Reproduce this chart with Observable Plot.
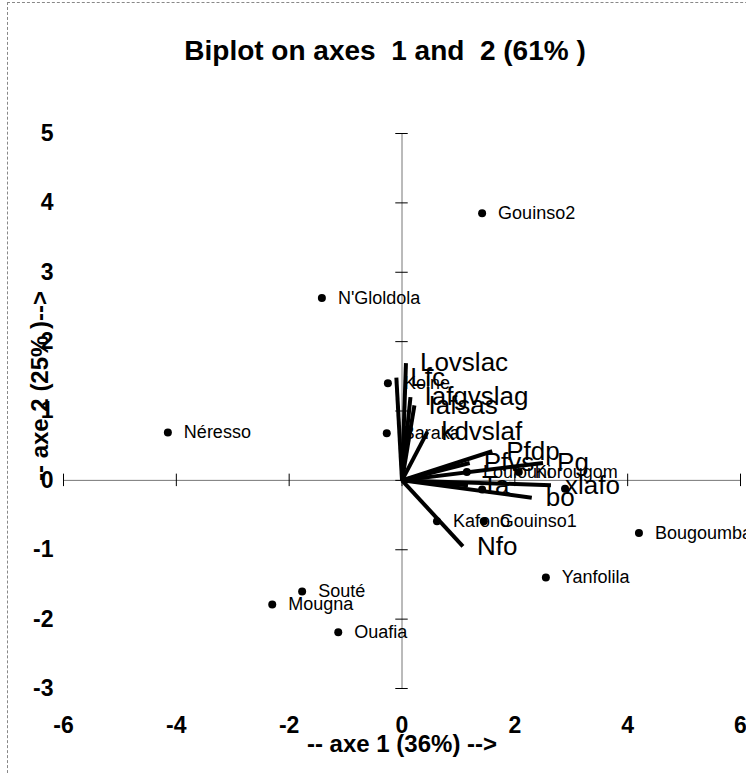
<!DOCTYPE html>
<html>
<head>
<meta charset="utf-8">
<script src="https://cdn.jsdelivr.net/npm/d3@7"></script>
<script src="https://cdn.jsdelivr.net/npm/@observablehq/plot@0.6"></script>
<style>
  html, body { margin: 0; padding: 0; background: #fff; }
  #wrap { position: relative; width: 746px; height: 773px; overflow: hidden; }
  #border { position: absolute; left: 7px; top: 2px; width: 800px; height: 800px;
            border-top: 1px dashed #888; border-left: 1px dashed #888; }
  #wrap svg { position: absolute; left: 0; top: 0; }
</style>
</head>
<body>
<div id="wrap"><div id="border"></div></div>
<script>
const title = "Biplot on axes  1 and  2 (61% )";
const xTitle = "-- axe 1 (36%) -->";
const yTitle = "-- axe 2 (25% )-->";

const xTicks = [-6, -4, -2, 0, 2, 4, 6];
const yTicks = [-3, -2, -1, 0, 1, 2, 3, 4, 5];

// sites (observations); two points whose labels are hidden under the variable labels
const siteNames = ["Gouinso2", "N'Gloldola", "Kolne", "Néresso", "Baraka", "Kafono", "Gouinso1",
                   "Bougoumbala", "Yanfolila", "Souté", "Mougna", "Ouafia",
                   "Loulouni", "Korougom", "", ""];
const siteX = [1.42, -1.42, -0.25, -4.15, -0.27, 0.62, 1.45, 4.2, 2.55, -1.77, -2.30, -1.13,
               1.15, 2.07, 1.42, 2.89];
const siteY = [3.85, 2.63, 1.40, 0.69, 0.68, -0.59, -0.59, -0.76, -1.40, -1.60, -1.79, -2.19,
               0.12, 0.12, -0.13, -0.12];

// variables (vectors)
const varNames = ["Lovslac", "Lfc", "Iafgvslag", "Iafsas", "kdvslaf", "Pfdp", "Pfvs", "Pg", "Ta", "xlafo", "bo", "Nfo"];
const varX = [0.07, -0.1, 0.15, 0.22, 0.45, 1.6, 1.2, 2.5, 1.17, 2.64, 2.3, 1.08];
const varY = [1.69, 1.48, 1.2, 1.08, 0.7, 0.42, 0.25, 0.25, -0.07, -0.07, -0.25, -0.95];

const sites = siteNames.map((n, i) => ({name: n, x: siteX[i], y: siteY[i]}));
const vars = varNames.map((n, i) => ({name: n, x: varX[i], y: varY[i]}));

const font = "'Liberation Sans', Arial, sans-serif";

const chart = Plot.plot({
  width: 746,
  height: 773,
  marginLeft: 63,
  marginRight: 6,
  marginTop: 133,
  marginBottom: 85,
  x: {domain: [-6, 6], axis: null},
  y: {domain: [-3, 5], axis: null},
  style: {fontFamily: font, background: "transparent", overflow: "visible"},
  marks: [
    // axes through origin
    Plot.ruleY([0], {x1: -6, x2: 6, stroke: "#777", strokeWidth: 1}),
    Plot.ruleX([0], {y1: -3, y2: 5, stroke: "#777", strokeWidth: 1}),
    Plot.ruleY(yTicks, {y: d => d, x1: -0.11, x2: 0.11, stroke: "#000", strokeWidth: 1}),
    Plot.ruleX(xTicks, {x: d => d, y1: -0.09, y2: 0.09, stroke: "#000", strokeWidth: 1}),
    // tick labels
    Plot.text(yTicks, {x: -6, y: d => d, text: d => String(d), dx: -10, textAnchor: "end",
      fontSize: 23, fontWeight: "bold", fill: "#000"}),
    Plot.text(xTicks, {x: d => d, y: -3, text: d => String(d), dy: 37, textAnchor: "middle",
      fontSize: 23, fontWeight: "bold", fill: "#000"}),
    // vectors
    Plot.link(vars, {x1: 0, y1: 0, x2: "x", y2: "y", stroke: "#000", strokeWidth: 4}),
    // sites
    Plot.dot(sites, {x: "x", y: "y", r: 4, fill: "#000", stroke: "none"}),
    Plot.text(sites.filter(d => d.name), {x: "x", y: "y", text: "name", dx: 16, textAnchor: "start",
      fontSize: 18, fill: "#000"}),
    Plot.text(vars, {x: "x", y: "y", text: "name", dx: 14, textAnchor: "start",
      fontSize: 26, fill: "#000"}),
    // titles
    Plot.text([title], {frameAnchor: "top", dx: -17, dy: -93, fontSize: 28, fontWeight: "bold", fill: "#000"}),
    Plot.text([xTitle], {frameAnchor: "bottom", dx: 0, dy: 63, fontSize: 24, fontWeight: "bold", fill: "#000"}),
    Plot.text([yTitle], {frameAnchor: "left", dx: -23, dy: 70, rotate: -90, textAnchor: "start",
      fontSize: 24, fontWeight: "bold", fill: "#000"})
  ]
});
document.getElementById("wrap").appendChild(chart);
</script>
</body>
</html>
